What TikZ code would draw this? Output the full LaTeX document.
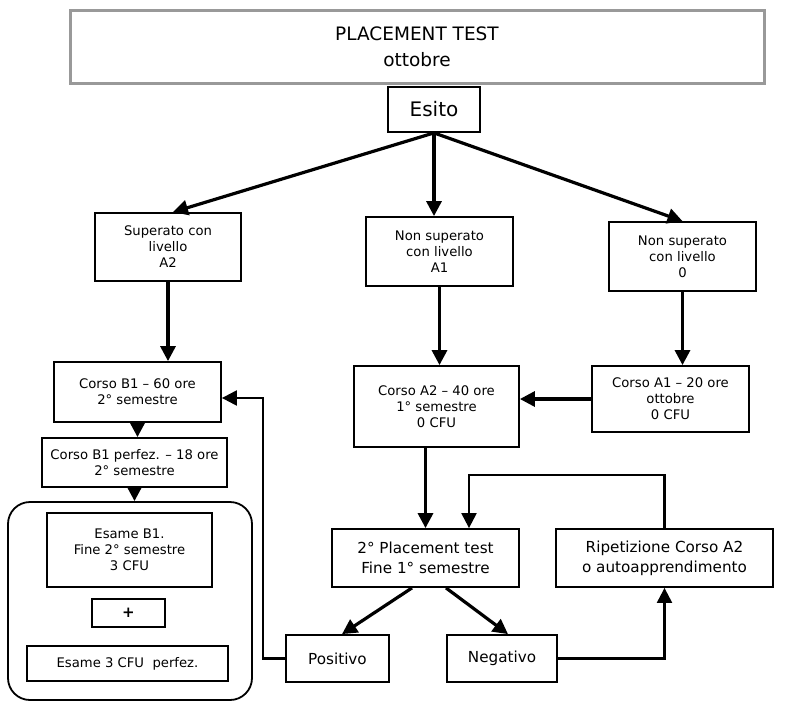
\documentclass[tikz,border=0pt]{standalone}
\usepackage{fontspec}
\setmainfont{DejaVu Sans}
\usetikzlibrary{arrows.meta,calc}
\begin{document}
\begin{tikzpicture}[x=1pt,y=-1pt,
  box/.style={draw=black, line width=1.8pt, align=center, inner sep=0pt,
    font=\fontsize{13.2}{16}\selectfont},
  big/.style={font=\fontsize{15.2}{20}\selectfont},
  arr/.style={line width=3.2pt, -{Triangle[length=15pt,width=15pt]}},
  back/.style={line width=2.2pt, -{Triangle[length=15pt,width=15pt]}}]
\useasboundingbox (0,0) rectangle (800,702);
% intestazione
\node[box, draw=black!40, line width=3pt, minimum width=694pt, minimum height=73pt,
  font=\fontsize{18.5}{26}\selectfont] (title) at (417,46.5) {PLACEMENT TEST\\ottobre};
\node[box, minimum width=92pt, minimum height=45pt,
  font=\fontsize{20}{22}\selectfont] (esito) at (434,109.5) {Esito};
% livelli
\node[box, minimum width=146pt, minimum height=68pt] (sup) at (168,247) {Superato con\\livello\\A2};
\node[box, minimum width=147pt, minimum height=69pt] (nsA1) at (439.5,251.5) {Non superato\\con livello\\A1};
\node[box, minimum width=147pt, minimum height=69pt] (ns0) at (682.5,256.5) {Non superato\\con livello\\0};
% corsi
\node[box, minimum width=167pt, minimum height=60pt] (cB1) at (137.5,392) {Corso B1 -- 60 ore\\2° semestre};
\node[box, minimum width=185pt, minimum height=49pt] (cB1p) at (134.5,462.5) {Corso B1 perfez. -- 18 ore\\2° semestre};
\node[box, minimum width=165pt, minimum height=81pt] (cA2) at (436.5,406.5) {Corso A2 -- 40 ore\\1° semestre\\0 CFU};
\node[box, minimum width=157pt, minimum height=66pt] (cA1) at (670.5,399) {Corso A1 -- 20 ore\\ottobre\\0 CFU};
% esami
\node[draw, line width=1.8pt, rounded corners=22pt, minimum width=244pt, minimum height=198pt] (esami) at (130,601) {};
\node[box, minimum width=165pt, minimum height=74pt] (esB1) at (129.5,550) {Esame B1.\\Fine 2° semestre\\3 CFU};
\node[box, minimum width=73pt, minimum height=28pt, font=\fontsize{15}{16}\selectfont\bfseries] (plus) at (128.5,613) {+};
\node[box, minimum width=201pt, minimum height=35pt] (es3) at (127.5,663.5) {Esame 3 CFU\ \ perfez.};
% secondo test
\node[box, big, minimum width=187pt, minimum height=58pt] (pt2) at (425.5,558) {2° Placement test\\Fine 1° semestre};
\node[box, big, minimum width=217pt, minimum height=58pt] (rip) at (664.5,558) {Ripetizione Corso A2\\o autoapprendimento};
\node[box, big, minimum width=103pt, minimum height=47pt] (pos) at (337.5,658.5) {Positivo};
\node[box, big, minimum width=110pt, minimum height=47pt] (neg) at (502,658.5) {Negativo};
% frecce
\draw[arr] (esito.south) -- ($(sup.north)+(5,0)$);
\draw[arr] (esito.south) -- (esito.south |- nsA1.north);
\draw[arr] (esito.south) -- (ns0.north);
\draw[arr] (sup.south) -- (sup.south |- cB1.north);
\draw[arr] (nsA1.south) -- (nsA1.south |- cA2.north);
\draw[arr] (ns0.south) -- (ns0.south |- cA1.north);
\draw[arr] (cA1.west) -- (cA1.west -| cA2.east);
\draw[arr] (cB1.south) -- (cB1.south |- cB1p.north);
\draw[arr] (cB1p.south) -- (cB1p.south |- esami.north);
\draw[arr] (pt2.north |- cA2.south) -- (pt2.north);
\draw[arr] ($(pt2.south)+(-13.5,0)$) -- ($(pos.north)+(4.5,0)$);
\draw[arr] ($(pt2.south)+(20.5,0)$) -- ($(neg.north)+(6,0)$);
\coordinate (loop) at ($(pt2.north)+(43.5,-53)$);
\draw[back] (rip.north) |- (loop) -- ($(pt2.north)+(43.5,0)$);
\draw[back] (neg.east) -| (rip.south);
\draw[back] (pos.west) -- ++(-22,0) |- ($(cB1.east)+(0,6)$);
\end{tikzpicture}
\end{document}
